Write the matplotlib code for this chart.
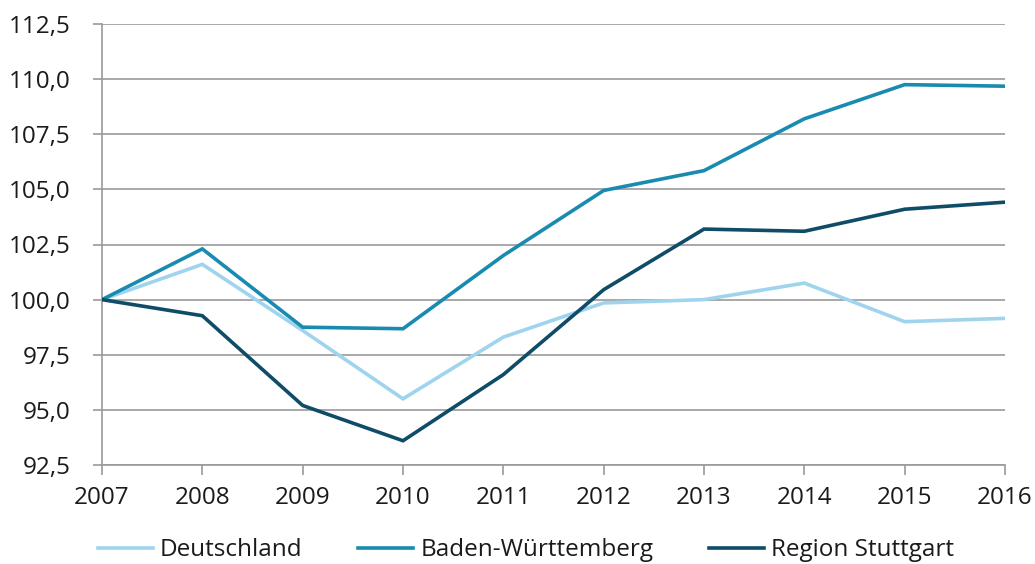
import matplotlib
matplotlib.use("Agg")
import matplotlib.pyplot as plt
from matplotlib.ticker import FuncFormatter

years = [2007, 2008, 2009, 2010, 2011, 2012, 2013, 2014, 2015, 2016]
deutschland = [100.0, 101.6, 98.6, 95.5, 98.3, 99.85, 100.0, 100.75, 99.0, 99.15]
baden_wuerttemberg = [100.0, 102.3, 98.75, 98.68, 102.0, 104.95, 105.85, 108.2, 109.75, 109.68]
region_stuttgart = [100.0, 99.27, 95.2, 93.6, 96.6, 100.45, 103.2, 103.1, 104.1, 104.42]
series_names = ["Deutschland", "Baden-Württemberg", "Region Stuttgart"]
yticks = [92.5, 95.0, 97.5, 100.0, 102.5, 105.0, 107.5, 110.0, 112.5]

colors = ["#9fd4ef", "#1a8bb0", "#0e4c68"]
grid_c = "#9a9a9a"

plt.rcParams['font.family'] = ['Open Sans', 'DejaVu Sans']

fig = plt.figure(figsize=(10.35, 5.64), dpi=100)
ax = fig.add_axes([102/1035, 1-465/564, (1005-102)/1035, (465-24)/564])

for vals, name, c in zip([deutschland, baden_wuerttemberg, region_stuttgart], series_names, colors):
    ax.plot(years, vals, color=c, lw=2.6, label=name, solid_joinstyle='miter', zorder=3)

ax.set_xlim(years[0], years[-1])
ax.set_ylim(yticks[0], yticks[-1])
ax.set_xticks(years)
ax.set_yticks(yticks)
ax.yaxis.set_major_formatter(FuncFormatter(lambda v, p: f"{v:.1f}".replace(".", ",")))
ax.grid(axis='y', color=grid_c, lw=1.2, zorder=1)
for s in ['top', 'right']:
    ax.spines[s].set_visible(False)
for s in ['left', 'bottom']:
    ax.spines[s].set_color(grid_c)
    ax.spines[s].set_linewidth(1.2)
ax.tick_params(axis='y', length=6.5, width=1.2, color=grid_c, labelsize=17.5, pad=16, labelcolor='#1a1a1a')
ax.tick_params(axis='x', length=7, width=1.2, color=grid_c, labelsize=17.5, pad=8, labelcolor='#1a1a1a')

fig.legend(loc='lower left', bbox_to_anchor=(76/1035, -0.036), ncol=3, frameon=False,
           fontsize=17.5, handlelength=2.25, handletextpad=0.3, columnspacing=2.3,
           labelcolor='#1a1a1a')

fig.savefig("out.png", dpi=100)
